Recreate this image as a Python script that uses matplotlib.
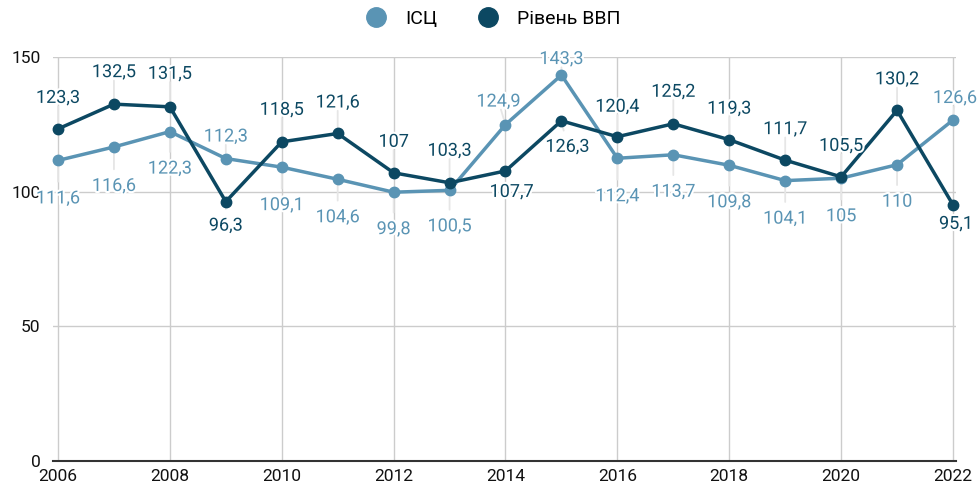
import matplotlib
matplotlib.use("Agg")
import matplotlib.pyplot as plt
import matplotlib.patheffects as pe
from matplotlib.lines import Line2D

plt.rcParams['font.family'] = ['Roboto', 'DejaVu Sans']

years = list(range(2006, 2023))
isc = [111.6, 116.6, 122.3, 112.3, 109.1, 104.6, 99.8, 100.5, 124.9, 143.3,
       112.4, 113.7, 109.8, 104.1, 105, 110, 126.6]
gdp = [123.3, 132.5, 131.5, 96.3, 118.5, 121.6, 107, 103.3, 107.7, 126.3,
       120.4, 125.2, 119.3, 111.7, 105.5, 130.2, 95.1]

# label offsets in pixels (dx, dy; dy positive = down)
isc_off = [(0, 38), (0, 39), (0, 37), (0, -22), (0, 38), (0, 38), (0, 37), (0, 36), (-7, -23),
           (0, -16), (0, 38), (0, 37), (0, 37), (0, 38), (0, 38), (0, 37), (2, -22)]
gdp_off = [(0, -31), (0, -32), (0, -33), (0, 24), (0, -32), (0, -31), (0, -31), (0, -32), (6, 21),
           (6, 26), (0, -30), (0, -32), (0, -31), (0, -31), (0, -31), (0, -31), (3, 19)]

c_isc = '#5a94b4'
c_gdp = '#0c4862'

W, H = 978, 490
fig = plt.figure(figsize=(W / 100, H / 100), dpi=100)
ax = fig.add_axes([53 / W, (H - 461) / H, (956 - 53) / W, (461 - 57) / H])

ax.plot(years, isc, color=c_isc, lw=2.5, marker='o', ms=7.5, zorder=3, clip_on=False)
ax.plot(years, gdp, color=c_gdp, lw=2.5, marker='o', ms=7.5, zorder=4, clip_on=False)

def fmt(v):
    return f"{v:g}".replace('.', ',')

def put_labels(vals, offs, color):
    for x, v, (dx, dy) in zip(years, vals, offs):
        # px -> pt
        xy_off = (dx * 0.72, -dy * 0.72)
        shrink = 6 if dy < 0 else 12
        # faint leader line, behind the series
        ax.annotate('', (x, v), xytext=xy_off, textcoords='offset points', zorder=1,
                    arrowprops=dict(arrowstyle='-', color='#e6e6e6', lw=1.3,
                                    shrinkA=shrink, shrinkB=4),
                    annotation_clip=False)
        ax.annotate(fmt(v), (x, v), xytext=xy_off, textcoords='offset points',
                    ha='center', va='center', fontsize=13, color=color, zorder=6,
                    path_effects=[pe.withStroke(linewidth=3, foreground='white')],
                    annotation_clip=False)

put_labels(isc, isc_off, c_isc)
put_labels(gdp, gdp_off, c_gdp)

ax.set_xlim(2006 - 5 / 55.94, 2022 + 3 / 55.94)
ax.set_ylim(0, 150)
ax.set_xticks(range(2006, 2023, 2))
ax.set_yticks([0, 50, 100, 150])
ax.grid(True, color='#cccccc', lw=1, zorder=0)
ax.set_axisbelow(True)
for s in ['top', 'right', 'left']:
    ax.spines[s].set_visible(False)
ax.spines['bottom'].set_color('#333333')
ax.spines['bottom'].set_linewidth(1.5)
ax.tick_params(length=0, labelsize=12.5, colors='#111111')
ax.tick_params(axis='y', pad=9)
ax.tick_params(axis='x', pad=6)

handles = [Line2D([], [], ls='none', marker='o', ms=14, color=c_isc),
           Line2D([], [], ls='none', marker='o', ms=14, color=c_gdp)]
fig.legend(handles, ['ІСЦ', 'Рівень ВВП'], loc='center', bbox_to_anchor=(0.5, 1 - 19 / H),
           ncol=2, frameon=False, fontsize=14, handletextpad=0.5, columnspacing=1.6)

fig.savefig('out.png', dpi=100)
